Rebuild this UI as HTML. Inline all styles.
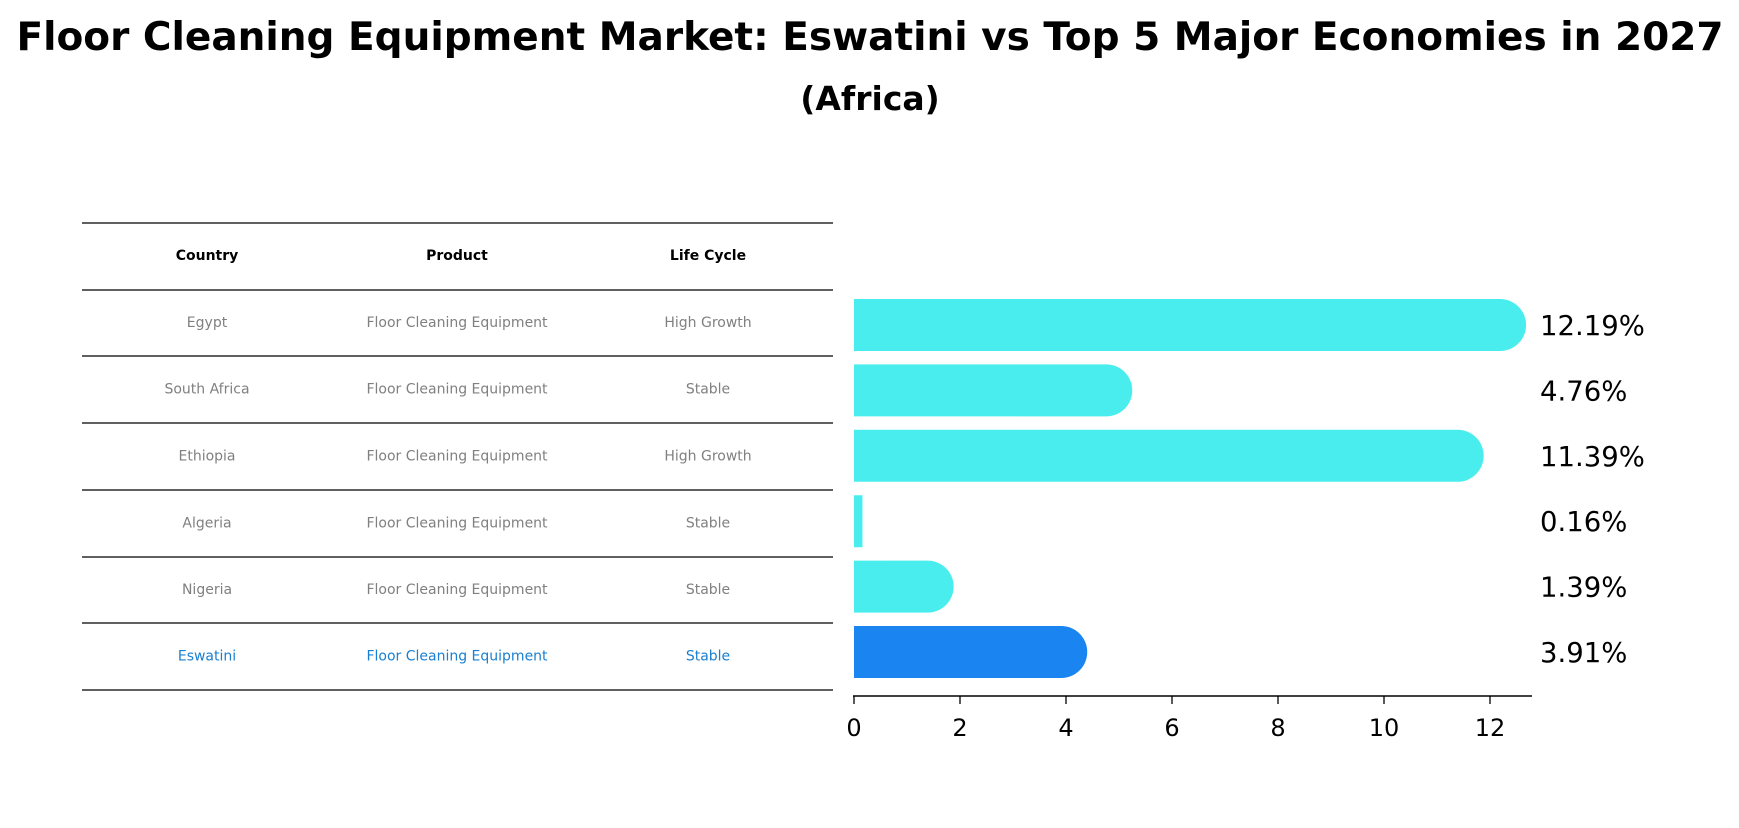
<!DOCTYPE html>
<html><head><meta charset="utf-8"><style>
body{margin:0;background:#fff;}
svg text{font-family:"DejaVu Sans","Liberation Sans",sans-serif;}
</style></head><body>
<svg width="1739" height="823" xmlns="http://www.w3.org/2000/svg">
<text x="870" y="50" text-anchor="middle" font-size="39" font-weight="bold">Floor Cleaning Equipment Market: Eswatini vs Top 5 Major Economies in 2027</text>
<text x="870" y="110" text-anchor="middle" font-size="33" font-weight="bold">(Africa)</text>
<g id="table"></g>
<g id="bars"></g>
</svg>
<script>
const countries=["Egypt","South Africa","Ethiopia","Algeria","Nigeria","Eswatini"];
const products=["Floor Cleaning Equipment","Floor Cleaning Equipment","Floor Cleaning Equipment","Floor Cleaning Equipment","Floor Cleaning Equipment","Floor Cleaning Equipment"];
const lifeCycles=["High Growth","Stable","High Growth","Stable","Stable","Stable"];
const values=[12.19,4.76,11.39,0.16,1.39,3.91];
const ticks=[0,2,4,6,8,10,12];
const NS="http://www.w3.org/2000/svg";
function mk(tag,attrs,parent){const e=document.createElementNS(NS,tag);for(const k in attrs)e.setAttribute(k,attrs[k]);parent.appendChild(e);return e;}
const table=document.getElementById('table');
const lineYs=[223,290,356,423,490,557,623,690];
const colX=[207,457,708];
lineYs.forEach((y,i)=>{const l=mk('line',{x1:82,x2:833,y1:y,y2:y,stroke:'#000','stroke-width':1.3},table);

});
["Country","Product","Life Cycle"].forEach((h,i)=>{const t=mk('text',{x:colX[i],y:260,'text-anchor':'middle','font-size':14,'font-weight':'bold'},table);t.textContent=h;

});
countries.forEach((c,r)=>{const y=(lineYs[r+1]+lineYs[r+2])/2+4;const col=r===5?'#1a7fd0':'#808080';
[c,products[r],lifeCycles[r]].forEach((v,i)=>{const t=mk('text',{x:colX[i],y:y,'text-anchor':'middle','font-size':14,fill:col},table);t.textContent=v;

});});
const bars=document.getElementById('bars');
const x0=854,ux=53,x=v=>x0+v*ux;
const barTop=r=>299+r*65.4,bh=52,rad=26;
values.forEach((v,r)=>{const y=barTop(r);const col=r===5?'#1a85f0':'#4aeded';
const xe=x(v);
let d;
if(xe-x0>rad){d=`M${x0},${y}H${xe}A${rad},${rad} 0 0 1 ${xe},${y+bh}H${x0}Z`;}
else d=`M${x0},${y}H${xe}V${y+bh}H${x0}Z`;
const p=mk('path',{d:d,fill:col},bars);


const t=mk('text',{x:1540,y:y+bh/2+10,'font-size':27.5},bars);t.textContent=v.toFixed(2)+'%';

});
const ax=mk('line',{x1:853,x2:1532,y1:696,y2:696,stroke:'#000','stroke-width':1.5},bars);


ticks.forEach(tv=>{const tk=mk('line',{x1:x(tv),x2:x(tv),y1:696,y2:704,stroke:'#000','stroke-width':1.3},bars);


const t=mk('text',{x:x(tv),y:736,'text-anchor':'middle','font-size':24},bars);t.textContent=tv;

});
</script>
</body></html>
